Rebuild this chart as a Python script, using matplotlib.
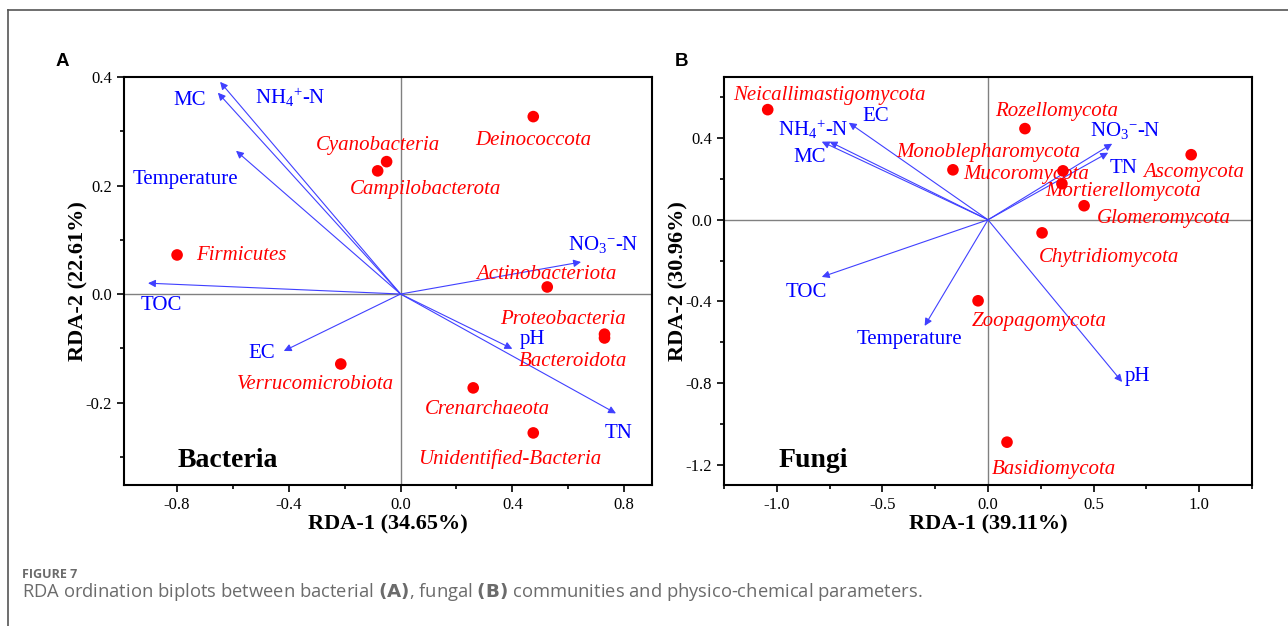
import matplotlib
matplotlib.use("Agg")
import matplotlib.pyplot as plt
from matplotlib.lines import Line2D
from matplotlib.ticker import MultipleLocator

plt.rcParams["font.family"] = "Liberation Serif"
plt.rcParams["mathtext.fontset"] = "custom"
plt.rcParams["mathtext.rm"] = "Liberation Serif"
plt.rcParams["mathtext.it"] = "Liberation Serif:italic"
plt.rcParams["axes.unicode_minus"] = False

# ---- Bacteria (panel A) ----
bac_taxa = ["Deinococcota", "Cyanobacteria", "Campilobacterota", "Firmicutes",
            "Actinobacteriota", "Proteobacteria", "Bacteroidota",
            "Verrucomicrobiota", "Crenarchaeota", "Unidentified-Bacteria"]
bac_x = [0.475, -0.05, -0.082, -0.80, 0.525, 0.73, 0.73, -0.214, 0.26, 0.475]
bac_y = [0.327, 0.244, 0.227, 0.072, 0.013, -0.074, -0.081, -0.129, -0.173, -0.256]

bac_vars = ["MC", r"NH$_4$$^{+}$-N", "Temperature", "TOC", "EC",
            r"NO$_3$$^{-}$-N", "pH", "TN"]
bac_vx = [-0.654, -0.646, -0.589, -0.904, -0.418, 0.646, 0.40, 0.771]
bac_vy = [0.371, 0.391, 0.264, 0.020, -0.105, 0.059, -0.101, -0.220]

# ---- Fungi (panel B) ----
fun_taxa = ["Neicallimastigomycota", "Rozellomycota", "Monoblepharomycota",
            "Mucoromycota", "Mortierellomycota", "Ascomycota", "Glomeromycota",
            "Chytridiomycota", "Zoopagomycota", "Basidiomycota"]
fun_x = [-1.043, 0.175, -0.166, 0.355, 0.35, 0.962, 0.455, 0.256, -0.047, 0.09]
fun_y = [0.54, 0.447, 0.245, 0.24, 0.177, 0.319, 0.069, -0.064, -0.397, -1.09]

fun_vars = ["EC", r"NH$_4$$^{+}$-N", "MC", r"NO$_3$$^{-}$-N", "TN", "TOC",
            "Temperature", "pH"]
fun_vx = [-0.659, -0.75, -0.787, 0.588, 0.569, -0.787, -0.30, 0.635]
fun_vy = [0.476, 0.383, 0.383, 0.373, 0.329, -0.28, -0.52, -0.795]

# label offsets in pixels (layout only)
bac_taxa_off = [(0, -24), (-9, 16), (48, -19), (64, -1), (-1, 12), (-42, 15),
                (-32, -24), (-25, -20), (14, -22), (-24, -26)]
bac_var_off = [(-28, -8), (70, -16), (-51, -29), (13, -22), (-22, -3),
               (22, 18), (20, 9), (3, -20)]
fun_taxa_off = [(62, 14), (32, 17), (35, 17), (-37, -4), (61, -8), (2, -18),
                (80, -13), (67, -25), (61, -21), (47, -27)]
fun_var_off = [(27, 6), (-16, 12), (-12, -16), (13, 13), (15, -16), (-15, -16),
               (-15, -14), (15, 5)]


def biplot(ax, taxa, tx, ty, toff, vars_, vx, vy, voff):
    ax.axhline(0, color="#808080", lw=1, zorder=1)
    ax.axvline(0, color="#808080", lw=1, zorder=1)
    for x, y in zip(vx, vy):
        ax.annotate("", xy=(x, y), xytext=(0, 0),
                    arrowprops=dict(arrowstyle="-|>", color="#4040ff", lw=0.8,
                                    mutation_scale=11, shrinkA=0, shrinkB=0),
                    zorder=2)
    for name, x, y, (dx, dy) in zip(vars_, vx, vy, voff):
        ax.annotate(name, xy=(x, y), xytext=(dx, dy), textcoords="offset pixels",
                    ha="center", va="center", color="#0000ff", fontsize=15)
    ax.scatter(tx, ty, s=70, color="#ff0000", zorder=3, edgecolors="none")
    for name, x, y, (dx, dy) in zip(taxa, tx, ty, toff):
        ax.annotate(name, xy=(x, y), xytext=(dx, dy), textcoords="offset pixels",
                    ha="center", va="center", color="#ff0000", fontsize=15,
                    style="italic")
    for s in ax.spines.values():
        s.set_linewidth(1.5)
    ax.tick_params(which="major", direction="out", length=5, width=1.2,
                   labelsize=12)
    ax.tick_params(which="minor", direction="out", length=3, width=1.2)


fig = plt.figure(figsize=(12.88, 6.26), dpi=100)

axA = fig.add_axes([124 / 1288, 1 - 485 / 626, 528 / 1288, 408 / 626])
biplot(axA, bac_taxa, bac_x, bac_y, bac_taxa_off,
       bac_vars, bac_vx, bac_vy, bac_var_off)
axA.set_xlim(-0.99, 0.9)
axA.set_ylim(-0.352, 0.4)
axA.xaxis.set_major_locator(MultipleLocator(0.4))
axA.xaxis.set_minor_locator(MultipleLocator(0.2))
axA.yaxis.set_major_locator(MultipleLocator(0.2))
axA.yaxis.set_minor_locator(MultipleLocator(0.1))
axA.set_xlabel("RDA-1 (34.65%)", fontsize=16, fontweight="bold")
axA.set_ylabel("RDA-2 (22.61%)", fontsize=16, fontweight="bold")
axA.xaxis.set_label_coords(0.5, -0.072)
axA.yaxis.set_label_coords(-0.068, 0.5)
axA.text(0.102, 0.059, "Bacteria", transform=axA.transAxes, fontsize=20,
         fontweight="bold", va="center")

axB = fig.add_axes([724 / 1288, 1 - 485 / 626, 528 / 1288, 408 / 626])
biplot(axB, fun_taxa, fun_x, fun_y, fun_taxa_off,
       fun_vars, fun_vx, fun_vy, fun_var_off)
axB.set_xlim(-1.25, 1.25)
axB.set_ylim(-1.3, 0.7)
axB.xaxis.set_major_locator(MultipleLocator(0.5))
axB.xaxis.set_minor_locator(MultipleLocator(0.25))
axB.yaxis.set_major_locator(MultipleLocator(0.4))
axB.yaxis.set_minor_locator(MultipleLocator(0.2))
axB.set_xlabel("RDA-1 (39.11%)", fontsize=16, fontweight="bold")
axB.set_ylabel("RDA-2 (30.96%)", fontsize=16, fontweight="bold")
axB.xaxis.set_label_coords(0.5, -0.072)
axB.yaxis.set_label_coords(-0.068, 0.5)
axB.text(0.104, 0.059, "Fungi", transform=axB.transAxes, fontsize=20,
         fontweight="bold", va="center")

# panel letters
fig.text(62 / 1288, 1 - 62 / 626, "A", fontsize=13.5, fontweight="bold",
         family="Liberation Sans", ha="center", va="center")
fig.text(682 / 1288, 1 - 62 / 626, "B", fontsize=13.5, fontweight="bold",
         family="Liberation Sans", ha="center", va="center")

# page frame
fig.add_artist(Line2D([8 / 1288, 8 / 1288], [0, 1 - 10 / 626],
                      transform=fig.transFigure, color="#555555", lw=1.2))
fig.add_artist(Line2D([8 / 1288, 1], [1 - 10 / 626, 1 - 10 / 626],
                      transform=fig.transFigure, color="#555555", lw=1.2))

# caption
fig.text(22 / 1288, 1 - 574 / 626, "FIGURE 7", fontsize=9, fontweight="bold",
         family="Open Sans", color="#6b6b6b", va="center")
fig.text(22 / 1288, 1 - 592 / 626,
         r"RDA ordination biplots between bacterial $\bf{(A)}$, fungal $\bf{(B)}$"
         r" communities and physico-chemical parameters.",
         fontsize=13.2, family="Open Sans", color="#6b6b6b", va="center")

fig.savefig("out.png", dpi=100)
